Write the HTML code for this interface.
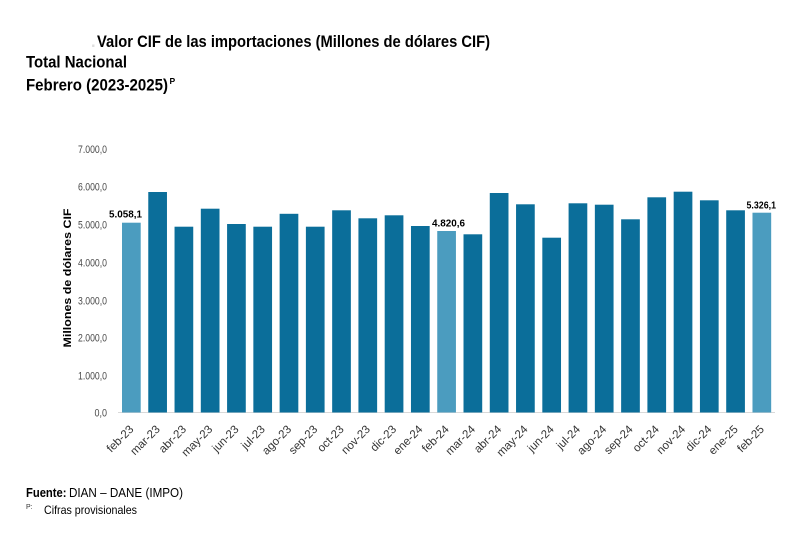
<!DOCTYPE html>
<html>
<head>
<meta charset="utf-8">
<style>
  html,body{margin:0;padding:0;background:#fff;}
  svg{display:block;}
  text{font-family:"Liberation Sans", sans-serif;}
</style>
</head>
<body>
<svg width="800" height="533" viewBox="0 0 800 533" xmlns="http://www.w3.org/2000/svg">
  <rect width="800" height="533" fill="#fff"/>

  <!-- Titles -->
  <text x="91" y="47" font-size="16.5" font-weight="bold" fill="#ddd">.</text>
  <text x="97" y="47" font-size="16.5" font-weight="bold" fill="#000" textLength="393" lengthAdjust="spacingAndGlyphs">Valor CIF de las importaciones (Millones de dólares CIF)</text>
  <text x="26" y="67.5" font-size="16.5" font-weight="bold" fill="#000" textLength="101" lengthAdjust="spacingAndGlyphs">Total Nacional</text>
  <text x="26" y="90.5" font-size="16.5" font-weight="bold" fill="#000" textLength="142" lengthAdjust="spacingAndGlyphs">Febrero (2023-2025)</text>
  <text x="169.5" y="84" font-size="8.5" font-weight="bold" fill="#000">P</text>

  <!-- Y tick labels -->
  <g font-size="11" fill="#4a4a4a" text-anchor="end">
    <text x="107" y="153" textLength="29" lengthAdjust="spacingAndGlyphs">7.000,0</text>
    <text x="107" y="190.7" textLength="29" lengthAdjust="spacingAndGlyphs">6.000,0</text>
    <text x="107" y="228.7" textLength="29" lengthAdjust="spacingAndGlyphs">5.000,0</text>
    <text x="107" y="266.3" textLength="29" lengthAdjust="spacingAndGlyphs">4.000,0</text>
    <text x="107" y="304.7" textLength="29" lengthAdjust="spacingAndGlyphs">3.000,0</text>
    <text x="107" y="341.7" textLength="29" lengthAdjust="spacingAndGlyphs">2.000,0</text>
    <text x="107" y="379.7" textLength="29" lengthAdjust="spacingAndGlyphs">1.000,0</text>
    <text x="107" y="416.5" textLength="12.5" lengthAdjust="spacingAndGlyphs">0,0</text>
  </g>

  <!-- Y axis title -->
  <text transform="translate(71,278) rotate(-90)" font-size="11" font-weight="bold" fill="#000" text-anchor="middle" textLength="139" lengthAdjust="spacingAndGlyphs">Millones de dólares CIF</text>

  <!-- Axis line -->
  <line x1="118" y1="412.5" x2="775" y2="412.5" stroke="#d9d9d9" stroke-width="1"/>

  <!-- Bars -->
  <g fill="#0b6e9a">
    <rect x="122" y="222.7" width="18.7" height="189.8" fill="#4b9cbf"/>
    <rect x="148.27" y="192" width="18.7" height="220.5"/>
    <rect x="174.54" y="226.7" width="18.7" height="185.8"/>
    <rect x="200.81" y="208.7" width="18.7" height="203.8"/>
    <rect x="227.08" y="224" width="18.7" height="188.5"/>
    <rect x="253.35" y="226.7" width="18.7" height="185.8"/>
    <rect x="279.62" y="213.8" width="18.7" height="198.7"/>
    <rect x="305.89" y="226.7" width="18.7" height="185.8"/>
    <rect x="332.16" y="210.3" width="18.7" height="202.2"/>
    <rect x="358.43" y="218.3" width="18.7" height="194.2"/>
    <rect x="384.7" y="215.3" width="18.7" height="197.2"/>
    <rect x="410.97" y="226" width="18.7" height="186.5"/>
    <rect x="437.24" y="231" width="18.7" height="181.5" fill="#4b9cbf"/>
    <rect x="463.51" y="234.3" width="18.7" height="178.2"/>
    <rect x="489.78" y="193" width="18.7" height="219.5"/>
    <rect x="516.05" y="204.3" width="18.7" height="208.2"/>
    <rect x="542.32" y="237.7" width="18.7" height="174.8"/>
    <rect x="568.59" y="203.3" width="18.7" height="209.2"/>
    <rect x="594.86" y="204.7" width="18.7" height="207.8"/>
    <rect x="621.13" y="219.3" width="18.7" height="193.2"/>
    <rect x="647.4" y="197.3" width="18.7" height="215.2"/>
    <rect x="673.67" y="191.7" width="18.7" height="220.8"/>
    <rect x="699.94" y="200.3" width="18.7" height="212.2"/>
    <rect x="726.21" y="210.3" width="18.7" height="202.2"/>
    <rect x="752.48" y="212.7" width="18.7" height="199.8" fill="#4b9cbf"/>
  </g>

  <!-- Data labels -->
  <g font-size="10.5" font-weight="bold" fill="#000">
    <text x="109" y="217.5" textLength="33" lengthAdjust="spacingAndGlyphs">5.058,1</text>
    <text x="432" y="226.7" textLength="33" lengthAdjust="spacingAndGlyphs">4.820,6</text>
    <text x="746.5" y="208.5" textLength="29.5" lengthAdjust="spacingAndGlyphs">5.326,1</text>
  </g>

  <!-- X labels -->
  <g font-size="11.5" fill="#333" text-anchor="end">
    <text transform="translate(134.3,430) rotate(-45)">feb-23</text>
    <text transform="translate(160.6,430) rotate(-45)">mar-23</text>
    <text transform="translate(186.9,430) rotate(-45)">abr-23</text>
    <text transform="translate(213.2,430) rotate(-45)">may-23</text>
    <text transform="translate(239.4,430) rotate(-45)">jun-23</text>
    <text transform="translate(265.7,430) rotate(-45)">jul-23</text>
    <text transform="translate(292.0,430) rotate(-45)">ago-23</text>
    <text transform="translate(318.2,430) rotate(-45)">sep-23</text>
    <text transform="translate(344.5,430) rotate(-45)">oct-23</text>
    <text transform="translate(370.8,430) rotate(-45)">nov-23</text>
    <text transform="translate(397.0,430) rotate(-45)">dic-23</text>
    <text transform="translate(423.3,430) rotate(-45)">ene-24</text>
    <text transform="translate(449.6,430) rotate(-45)">feb-24</text>
    <text transform="translate(475.9,430) rotate(-45)">mar-24</text>
    <text transform="translate(502.1,430) rotate(-45)">abr-24</text>
    <text transform="translate(528.4,430) rotate(-45)">may-24</text>
    <text transform="translate(554.7,430) rotate(-45)">jun-24</text>
    <text transform="translate(580.9,430) rotate(-45)">jul-24</text>
    <text transform="translate(607.2,430) rotate(-45)">ago-24</text>
    <text transform="translate(633.5,430) rotate(-45)">sep-24</text>
    <text transform="translate(659.8,430) rotate(-45)">oct-24</text>
    <text transform="translate(686.0,430) rotate(-45)">nov-24</text>
    <text transform="translate(712.3,430) rotate(-45)">dic-24</text>
    <text transform="translate(738.6,430) rotate(-45)">ene-25</text>
    <text transform="translate(764.8,430) rotate(-45)">feb-25</text>
  </g>

  <!-- Footer -->
  <text x="26" y="497" font-size="13" font-weight="bold" fill="#000" textLength="40.5" lengthAdjust="spacingAndGlyphs">Fuente:</text>
  <text x="69" y="497" font-size="13" fill="#000" textLength="114" lengthAdjust="spacingAndGlyphs">DIAN – DANE (IMPO)</text>
  <text x="26" y="509" font-size="7" fill="#333">P:</text>
  <text x="44" y="514" font-size="12" fill="#000" textLength="93" lengthAdjust="spacingAndGlyphs">Cifras provisionales</text>
</svg>
</body>
</html>
